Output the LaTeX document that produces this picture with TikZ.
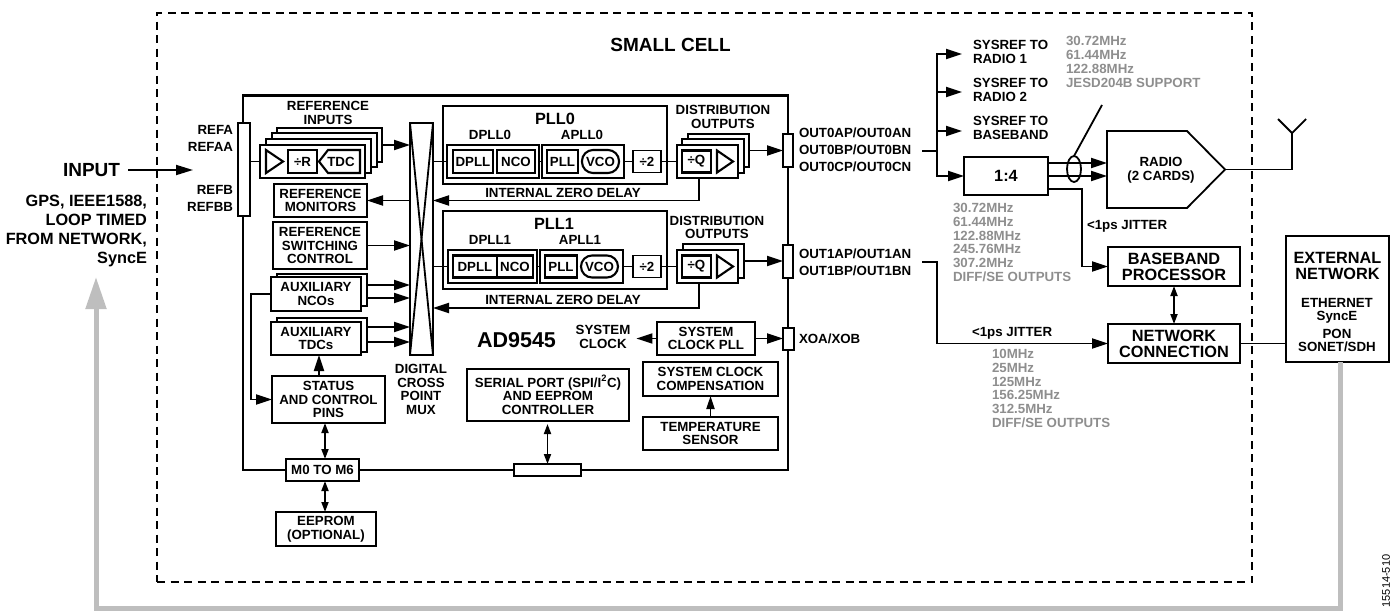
\documentclass[tikz,border=0pt]{standalone}
\usepackage{fontspec}
\setmainfont{Liberation Sans}
\definecolor{FreqGray}{HTML}{8E8E8E}
\definecolor{LoopGray}{HTML}{BEBEBE}
\usepackage{tikz}
\usetikzlibrary{arrows.meta, shapes.geometric}
\tikzset{
  lbl/.style={font=\fontsize{13.3}{13.8}\selectfont\bfseries, inner sep=0pt, outer sep=0pt, align=center},
  bigLbl/.style={font=\fontsize{16.3}{16}\selectfont\bfseries, inner sep=0pt, outer sep=0pt, align=center},
  headLbl/.style={font=\fontsize{19}{20}\selectfont\bfseries, inner sep=0pt, outer sep=0pt, align=center},
  pinLbl/.style={font=\fontsize{13.3}{16.7}\selectfont\bfseries, inner sep=0pt, outer sep=0pt},
  freq/.style={lbl, text=FreqGray, align=left, anchor=west},
  box/.style 2 args={
    rectangle, draw, fill=white, line width=1.8pt,
    minimum width=#1pt, minimum height=#2pt, lbl
  },
  pin/.style 2 args={
    rectangle, draw, fill=white, line width=1.5pt,
    minimum width=#1pt, minimum height=#2pt, inner sep=0pt, outer sep=0pt
  },
  part/.style={line width=2.1pt},
  wire/.style={line width=1.8pt},
  arr/.style={-{Triangle[length=16pt,width=10pt]}, line width=1.8pt},
  dArr/.style={{Triangle[length=10pt,width=7pt]}-{Triangle[length=10pt,width=7pt]}, line width=1.8pt},
  loopArr/.style={-{Triangle[length=32pt,width=20pt]}, line width=5pt, color=LoopGray},
}
\begin{document}
\begin{tikzpicture}[x=1pt,y=-1pt]
\useasboundingbox (0,0) rectangle (1394,611);

% Small cell outline and chip outline
\node[rectangle, draw, line width=1.6pt, dash pattern=on 8pt off 5.5pt, minimum width=1095pt, minimum height=569pt, inner sep=0pt] at (704.5,297.5) (smallcell) {};
\node[rectangle, draw, line width=2.4pt, minimum width=545pt, minimum height=374.5pt, inner sep=0pt] at (515.5,282.75) (chip) {};
\node[headLbl] at (670.5,45) (smallcelllbl) {SMALL CELL};
\node[headLbl, font=\fontsize{21.5}{22}\selectfont\bfseries] at (516.5,340) (chiplbl) {AD9545};

% Pins on the chip outline
\node[pin={12}{93}] at (244,169.5) (refpin) {};
\node[pin={10}{33}] at (788,150.5) (out0pin) {};
\node[pin={10}{33}] at (788,261.5) (out1pin) {};
\node[pin={11}{22}] at (788.5,339) (xoapin) {};
\node[pin={67}{12}] at (547.5,470) (serialpin) {};
\node[lbl, anchor=east, align=right, font=\fontsize{13.3}{17}\selectfont\bfseries] at (233,138.5) (refalbl) {REFA\\REFAA};
\node[lbl, anchor=east, align=right, font=\fontsize{13.3}{17}\selectfont\bfseries] at (233,198.5) (refblbl) {REFB\\REFBB};
\node[pinLbl, anchor=west, align=left] at (799,150) (out0lbl) {OUT0AP/OUT0AN\\OUT0BP/OUT0BN\\OUT0CP/OUT0CN};
\node[pinLbl, anchor=west, align=left] at (799,262) (out1lbl) {OUT1AP/OUT1AN\\OUT1BP/OUT1BN};
\node[lbl, anchor=west] at (799,338.5) (xoalbl) {XOA/XOB};

% Input side
\node[headLbl, anchor=east] at (120,170) (inputlbl) {INPUT};
\coordinate (inputend) at (193,170);
\node[bigLbl, anchor=east, align=right, font=\fontsize{16.3}{19}\selectfont\bfseries] at (147,230.5) (sourcelbl) {GPS, IEEE1588,\\LOOP TIMED\\FROM NETWORK,\\SyncE};

% Reference inputs
\node[lbl] at (328,113) (refinlbl) {REFERENCE\\INPUTS};
\node[box={105}{34}] at (329.5,145) (refin4) {};
\node[box={105}{34}] at (324.5,150) (refin3) {};
\node[box={105}{34}] at (318.5,156) (refin2) {};
\node[box={105}{33}] at (312.5,161.5) (refin1) {};
\draw[part] (266,150) -- (283,161.5) -- (266,173) -- cycle;
\node[box={29}{23}, part] at (302.5,161.5) (divr) {÷R};
\draw[part] (360,150) -- (328,150) -- (319,161.5) -- (328,173) -- (360,173) -- cycle;
\node[lbl] at (341,161.5) (tdc) {TDC};

% Left column
\node[box={93}{33}] at (320.5,200.5) (refmon) {REFERENCE\\MONITORS};
\node[box={94}{47}] at (320,245.5) (refsw) {REFERENCE\\SWITCHING\\CONTROL};
\node[box={90}{32}] at (322,290) (auxncob) {};
\node[box={90}{34}] at (316,294) (auxncof) {AUXILIARY\\NCOs};
\node[box={90}{34}] at (322,335) (auxtdcb) {};
\node[box={90}{33}] at (316,338.5) (auxtdcf) {AUXILIARY\\TDCs};
\node[box={113}{47}] at (328.5,399.5) (status) {STATUS\\AND CONTROL\\PINS};
\node[box={73}{22}] at (322.5,470) (mpins) {M0 TO M6};
\node[box={100}{34}] at (326,529) (eeprom) {EEPROM\\(OPTIONAL)};

% Crosspoint
\node[box={23}{232}] at (421.5,239) (mux) {};
\draw[wire] (mux.north west) -- (mux.south east);
\draw[wire] (mux.north east) -- (mux.south west);
\node[lbl] at (421,389.5) (muxlbl) {DIGITAL\\CROSS\\POINT\\MUX};

% PLL0
\node[box={224}{78}] at (555,145) (pll0) {};
\node[bigLbl] at (555,119) (pll0lbl) {PLL0};
\node[lbl] at (490,135) (dpll0lbl) {DPLL0};
\node[lbl] at (582,135) (apll0lbl) {APLL0};
\node[box={92}{33}] at (493,161.5) (dpll0o) {};
\node[box={40}{23}, part] at (473,161.5) (dpll0) {DPLL};
\node[box={38}{23}, part] at (516,161.5) (nco0) {NCO};
\node[box={82}{33}] at (583,161.5) (apll0o) {};
\node[box={31}{23}, part] at (562.5,161.5) (lpll0) {PLL};
\node[box={37}{23}, part, rounded corners=11pt] at (600.5,161.5) (vco0) {VCO};
\node[box={28}{22}] at (647,161.5) (div0) {÷2};
\node[lbl] at (723,117) (dist0lbl) {DISTRIBUTION\\OUTPUTS};
\node[box={61}{33}] at (718.5,150.5) (dist0c) {};
\node[box={62}{34}] at (713,156) (dist0b) {};
\node[box={61}{33}] at (707.5,161.5) (dist0a) {};
\node[box={29}{22}, part] at (696.5,161.5) (divq0) {÷Q};
\draw[part] (717,150.5) -- (733,161.5) -- (717,172.5) -- cycle;
\node[lbl] at (563,193) (zd0lbl) {INTERNAL ZERO DELAY};

% PLL1
\node[box={224}{78}] at (555,250) (pll1) {};
\node[bigLbl] at (554,224) (pll1lbl) {PLL1};
\node[lbl] at (490,240) (dpll1lbl) {DPLL1};
\node[lbl] at (580,240) (apll1lbl) {APLL1};
\node[box={89}{33}] at (492.5,266.5) (dpll1o) {};
\node[box={44}{22}, part] at (475,266.5) (dpll1) {DPLL};
\node[box={36}{22}, part] at (515,266.5) (nco1) {NCO};
\node[box={83}{33}] at (581.5,266.5) (apll1o) {};
\node[box={32}{22}, part] at (561,266.5) (lpll1) {PLL};
\node[box={37}{22}, part, rounded corners=11pt] at (599.5,266.5) (vco1) {VCO};
\node[box={28}{22}] at (647,266.5) (div1) {÷2};
\node[lbl] at (717,227.5) (dist1lbl) {DISTRIBUTION\\OUTPUTS};
\node[box={61}{34}] at (713.5,261) (dist1b) {};
\node[box={61}{33}] at (707.5,266.5) (dist1a) {};
\node[box={29}{22}, part] at (696.5,266.5) (divq1) {÷Q};
\draw[part] (717,255.5) -- (733,266.5) -- (717,277.5) -- cycle;
\node[lbl] at (563,300) (zd1lbl) {INTERNAL ZERO DELAY};
\coordinate (zd1end) at (433,308);

% System clock and serial port
\node[lbl] at (603,337) (sysclk) {SYSTEM\\CLOCK};
\node[box={98}{33}] at (706,338.5) (syspll) {SYSTEM\\CLOCK PLL};
\node[box={135}{34}] at (710.5,379) (syscomp) {SYSTEM CLOCK\\COMPENSATION};
\node[box={135}{33}] at (710.5,433.5) (tempsens) {TEMPERATURE\\SENSOR};
\node[box={162}{52}] at (548,395) (serial) {SERIAL PORT (SPI/I\textsuperscript{2}C)\\AND EEPROM\\CONTROLLER};

% Outputs
\coordinate (out0end) at (922,151);
\coordinate (split) at (937,151);
\coordinate (sysref1) at (962,54);
\coordinate (sysref2) at (962,92);
\coordinate (sysref3) at (962,131);
\coordinate (out1end) at (922,262);
\node[lbl, anchor=west, align=left] at (973,52) (sysref1lbl) {SYSREF TO\\RADIO 1};
\node[lbl, anchor=west, align=left] at (973,90) (sysref2lbl) {SYSREF TO\\RADIO 2};
\node[lbl, anchor=west, align=left] at (973,128) (sysref3lbl) {SYSREF TO\\BASEBAND};
\node[freq] at (1066,62) (jesdlbl) {30.72MHz\\61.44MHz\\122.88MHz\\JESD204B SUPPORT};
\node[box={84}{38}, bigLbl] at (1006,176) (fan) {1:4};
\node[freq] at (953,242.5) (fanfreq) {30.72MHz\\61.44MHz\\122.88MHz\\245.76MHz\\307.2MHz\\DIFF/SE OUTPUTS};
\node[freq] at (992,388.5) (netfreq) {10MHz\\25MHz\\125MHz\\156.25MHz\\312.5MHz\\DIFF/SE OUTPUTS};
\node[lbl, anchor=west] at (1087,226) (jit0) {<1ps JITTER};
\node[lbl, anchor=west] at (972,333) (jit1) {<1ps JITTER};

% Radio with antenna
\node[rectangle, minimum width=80pt, minimum height=77pt, inner sep=0pt, outer sep=0pt] at (1147,169.5) (radio) {};
\coordinate (radiotip) at (1225,169.5);
\draw[wire] (radio.north west) -- (radio.north east) -- (radiotip) -- (radio.south east) -- (radio.south west) -- cycle;
\node[lbl] at (1161,170) (radiolbl) {RADIO\\(2 CARDS)};
\coordinate (antbase) at (1292,169.5);
\coordinate (antfork) at (1292,133);
\coordinate (antleft) at (1278,119);
\coordinate (antright) at (1306,119);
\node[ellipse, draw, line width=1.8pt, minimum width=14pt, minimum height=26pt, inner sep=0pt, outer sep=0pt] at (1074,169) (bundle) {};
\coordinate (bundleend) at (1102,105);

\node[box={132}{39}, bigLbl] at (1174,266.5) (baseband) {BASEBAND\\PROCESSOR};
\node[box={132}{39}, bigLbl] at (1174,343.5) (network) {NETWORK\\CONNECTION};
\node[box={103}{126}] at (1337.5,299) (extnet) {};
\node[bigLbl] at (1337.5,266) (extlbl) {EXTERNAL\\NETWORK};
\node[lbl, font=\fontsize{13.3}{13}\selectfont\bfseries] at (1337,310.5) (ethlbl) {ETHERNET\\SyncE};
\node[lbl, font=\fontsize{13.3}{13}\selectfont\bfseries] at (1337,340.5) (ponlbl) {PON\\SONET/SDH};

% Connectors inside the chip
\draw[wire] (refpin.east |- refin1.west) -- (refin1.west);
\draw[arr] (refin4.east) -- (refin4.east -| mux.west);
\draw[arr] (mux.west |- refmon.east) -- (refmon.east);
\draw[arr] (refsw.east) -- (refsw.east -| mux.west);
\draw[arr] ([yshift=5pt]auxncob.east) -- ([yshift=5pt]auxncob.east -| mux.west);
\draw[arr] ([yshift=-8pt]auxncob.east) -- ([yshift=-8pt]auxncob.east -| mux.west);
\draw[arr] ([yshift=8pt]auxtdcb.east) -- ([yshift=8pt]auxtdcb.east -| mux.west);
\draw[arr] ([yshift=-7pt]auxtdcb.east) -- ([yshift=-7pt]auxtdcb.east -| mux.west);
\draw[arr] (auxncof.west) -- ++(-20,0) |- (status.west);
\draw[arr] ([xshift=3pt]auxtdcf.south |- status.north) -- ([xshift=3pt]auxtdcf.south);
\draw[dArr] ([xshift=2.5pt]mpins.north) -- ([xshift=2.5pt]mpins.north |- status.south);
\draw[dArr] ([xshift=2.5pt]mpins.south) -- ([xshift=2.5pt]mpins.south |- eeprom.north);
\draw[wire] (mux.east |- dpll0o.west) -- (dpll0o.west);
\draw[wire] (dpll0o.east) -- (apll0o.west);
\draw[wire] (apll0o.east) -- (div0.west);
\draw[wire] (div0.east) -- (dist0a.west);
\draw[arr] (dist0c.east) -- (out0pin.west);
\draw[arr] ([xshift=-8.5pt]dist0a.south) |- (mux.east |- refmon.east);
\draw[wire] (mux.east |- dpll1o.west) -- (dpll1o.west);
\draw[wire] (dpll1o.east) -- (apll1o.west);
\draw[wire] (apll1o.east) -- (div1.west);
\draw[wire] (div1.east) -- (dist1a.west);
\draw[arr] (dist1b.east) -- (dist1b.east -| out1pin.west);
\draw[arr] ([xshift=-8.5pt]dist1a.south) |- (zd1end);
\draw[arr] (syspll.west) -- ([xshift=6pt]sysclk.east |- syspll.west);
\draw[arr] (syspll.east) -- (syspll.east -| xoapin.west);
\draw[arr, -{Triangle[length=13pt,width=8pt]}] (tempsens.north) -- (syscomp.south);
\draw[dArr] (serialpin.north) -- ([yshift=-3pt]serialpin.north |- serial.south);

% Connectors outside the chip
\draw[arr, -{Triangle[length=17pt,width=10pt]}] ([xshift=8pt]inputlbl.east) -- (inputend);
\draw[wire] (out0end) -- (split);
\draw[arr] (split) |- (sysref1);
\draw[arr] (split) |- (sysref2);
\draw[arr] (split) |- (sysref3);
\draw[arr] (split) |- (fan.west);
\draw[arr] ([yshift=13pt]fan.east) -- ([yshift=13pt]fan.east -| radio.west);
\draw[arr] (fan.east) -- (fan.east -| radio.west);
\draw[arr] ([yshift=-13pt]fan.east) -- ++(34,0) |- (baseband.west);
\draw[wire] (bundle.north) -- (bundleend);
\draw[wire] (radiotip) -- (antbase) -- (antfork);
\draw[wire] (antleft) -- (antfork) -- (antright);
\draw[arr] (out1end) -- ++(15,0) |- (network.west);
\draw[dArr] (baseband.south) -- (network.north);
\draw[wire] (network.east) -- (network.east -| extnet.west);

% Timing loop back to the input
\coordinate (loopcorner) at (96,608);
\coordinate (looptip) at (96,277);
\draw[loopArr] ([xshift=2.5pt]extnet.south) |- (loopcorner) -- (looptip);

\node[font=\fontsize{11}{11}\selectfont, inner sep=0pt, rotate=90] at (1386,581) (figno) {15514-510};

\end{tikzpicture}
\end{document}
